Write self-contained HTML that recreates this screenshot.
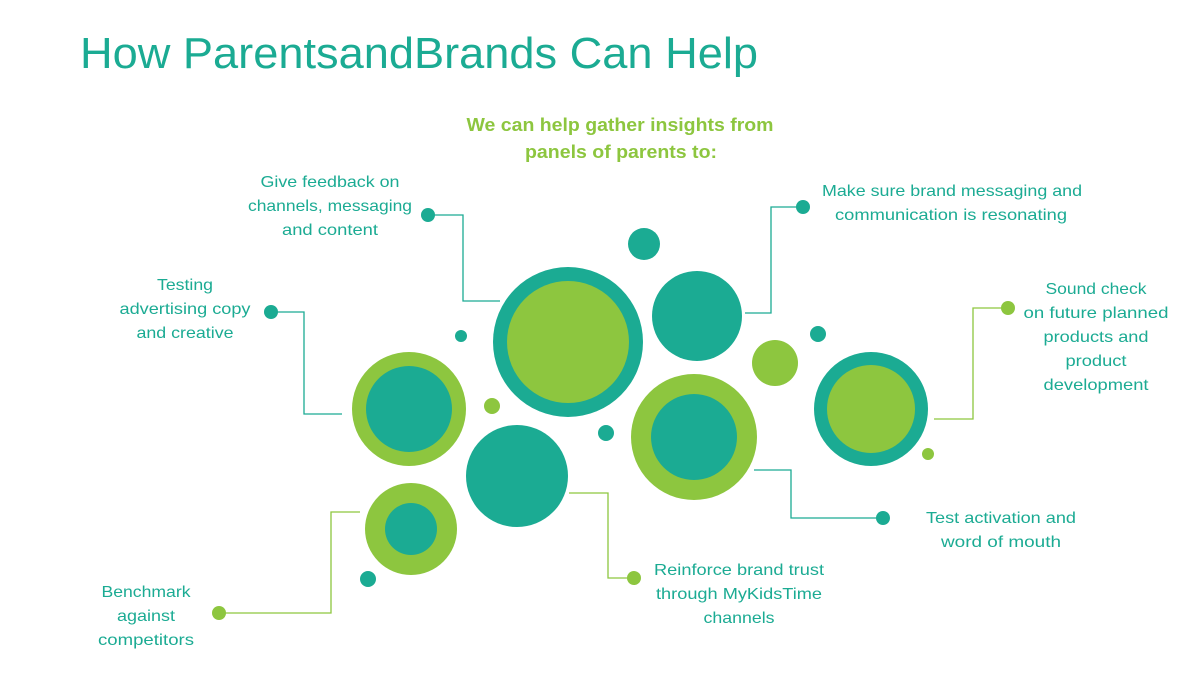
<!DOCTYPE html>
<html><head><meta charset="utf-8"><style>
html,body{margin:0;padding:0;background:#fff;}
svg{display:block;}
text{font-family:"Liberation Sans",sans-serif;}
.l{fill:#1bab93;font-size:16px;text-anchor:middle;}
</style></head><body>
<svg width="1200" height="675" viewBox="0 0 1200 675" xmlns="http://www.w3.org/2000/svg">
<rect width="1200" height="675" fill="#fff"/>
<text x="80" y="68" font-size="44" fill="#1bab93" textLength="678" lengthAdjust="spacingAndGlyphs">How ParentsandBrands Can Help</text>
<g fill="#8dc63f" font-size="18" font-weight="bold" text-anchor="middle">
<text x="620" y="131" textLength="307" lengthAdjust="spacingAndGlyphs">We can help gather insights from</text>
<text x="621" y="158" textLength="192" lengthAdjust="spacingAndGlyphs">panels of parents to:</text>
</g>
<!-- connectors -->
<g fill="none" stroke-width="1.3">
<polyline points="428,215 463,215 463,301 500,301" stroke="#1bab93"/>
<polyline points="803,207 771,207 771,313 745,313" stroke="#1bab93"/>
<polyline points="271,312 304,312 304,414 342,414" stroke="#1bab93"/>
<polyline points="1008,308 973,308 973,419 934,419" stroke="#8dc63f"/>
<polyline points="883,518 791,518 791,470 754,470" stroke="#1bab93"/>
<polyline points="634,578 608,578 608,493 569,493" stroke="#8dc63f"/>
<polyline points="219,613 331,613 331,512 360,512" stroke="#8dc63f"/>
</g>
<g fill="#1bab93"><circle cx="428" cy="215" r="7"/><circle cx="803" cy="207" r="7"/><circle cx="271" cy="312" r="7"/><circle cx="883" cy="518" r="7"/></g>
<g fill="#8dc63f"><circle cx="1008" cy="308" r="7"/><circle cx="634" cy="578" r="7"/><circle cx="219" cy="613" r="7"/></g>
<!-- circles -->
<circle cx="568" cy="342" r="75" fill="#1bab93"/><circle cx="568" cy="342" r="61" fill="#8dc63f"/>
<circle cx="697" cy="316" r="45" fill="#1bab93"/>
<circle cx="409" cy="409" r="57" fill="#8dc63f"/><circle cx="409" cy="409" r="43" fill="#1bab93"/>
<circle cx="517" cy="476" r="51" fill="#1bab93"/>
<circle cx="694" cy="437" r="63" fill="#8dc63f"/><circle cx="694" cy="437" r="43" fill="#1bab93"/>
<circle cx="411" cy="529" r="46" fill="#8dc63f"/><circle cx="411" cy="529" r="26" fill="#1bab93"/>
<circle cx="871" cy="409" r="57" fill="#1bab93"/><circle cx="871" cy="409" r="44" fill="#8dc63f"/>
<circle cx="775" cy="363" r="23" fill="#8dc63f"/>
<circle cx="644" cy="244" r="16" fill="#1bab93"/>
<circle cx="818" cy="334" r="8" fill="#1bab93"/>
<circle cx="928" cy="454" r="6" fill="#8dc63f"/>
<circle cx="368" cy="579" r="8" fill="#1bab93"/>
<circle cx="492" cy="406" r="8" fill="#8dc63f"/>
<circle cx="606" cy="433" r="8" fill="#1bab93"/>
<circle cx="461" cy="336" r="6" fill="#1bab93"/>
<!-- labels -->
<g class="l">
<text x="330" y="187" textLength="139" lengthAdjust="spacingAndGlyphs">Give feedback on</text>
<text x="330" y="211" textLength="164" lengthAdjust="spacingAndGlyphs">channels, messaging</text>
<text x="330" y="235" textLength="96" lengthAdjust="spacingAndGlyphs">and content</text>
<text x="952" y="196" textLength="260" lengthAdjust="spacingAndGlyphs">Make sure brand messaging and</text>
<text x="951" y="220" textLength="232" lengthAdjust="spacingAndGlyphs">communication is resonating</text>
<text x="185" y="290" textLength="56" lengthAdjust="spacingAndGlyphs">Testing</text>
<text x="185" y="314" textLength="131" lengthAdjust="spacingAndGlyphs">advertising copy</text>
<text x="185" y="338" textLength="97" lengthAdjust="spacingAndGlyphs">and creative</text>
<text x="1096" y="294" textLength="101" lengthAdjust="spacingAndGlyphs">Sound check</text>
<text x="1096" y="318" textLength="145" lengthAdjust="spacingAndGlyphs">on future planned</text>
<text x="1096" y="342" textLength="105" lengthAdjust="spacingAndGlyphs">products and</text>
<text x="1096" y="366" textLength="61" lengthAdjust="spacingAndGlyphs">product</text>
<text x="1096" y="390" textLength="105" lengthAdjust="spacingAndGlyphs">development</text>
<text x="1001" y="523" textLength="150" lengthAdjust="spacingAndGlyphs">Test activation and</text>
<text x="1001" y="547" textLength="120" lengthAdjust="spacingAndGlyphs">word of mouth</text>
<text x="739" y="575" textLength="170" lengthAdjust="spacingAndGlyphs">Reinforce brand trust</text>
<text x="739" y="599" textLength="166" lengthAdjust="spacingAndGlyphs">through MyKidsTime</text>
<text x="739" y="623" textLength="71" lengthAdjust="spacingAndGlyphs">channels</text>
<text x="146" y="597" textLength="89" lengthAdjust="spacingAndGlyphs">Benchmark</text>
<text x="146" y="621" textLength="58" lengthAdjust="spacingAndGlyphs">against</text>
<text x="146" y="645" textLength="96" lengthAdjust="spacingAndGlyphs">competitors</text>
</g>
</svg>
</body></html>
